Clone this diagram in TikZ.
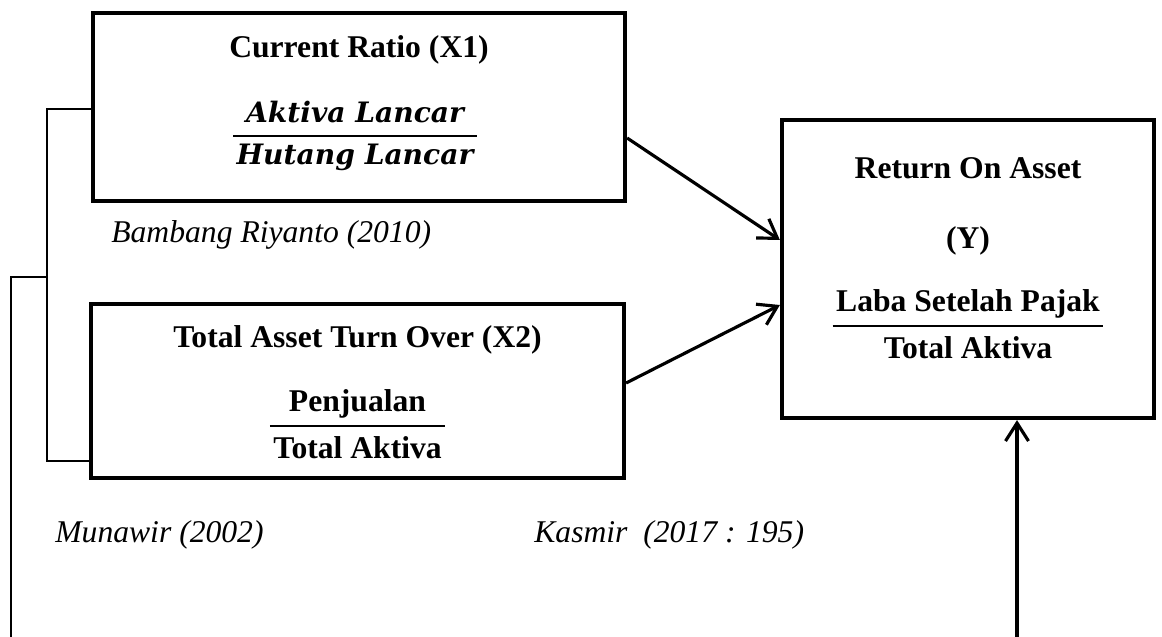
\documentclass[tikz,border=0pt]{standalone}
\usepackage{fontspec}
\setmainfont{Liberation Serif}
\newfontfamily\mathitfont{DejaVu Serif}
\usetikzlibrary{arrows.meta,calc}

\newcommand{\figfont}{\fontsize{18}{21.6}\selectfont}
\newcommand{\ratiofrac}[2]{%
  {\setlength{\arrayrulewidth}{1.7pt}\renewcommand{\arraystretch}{1.15}%
   \setlength{\tabcolsep}{2pt}%
   \begin{tabular}{c}#1\\\hline #2\end{tabular}}}

\begin{document}
\begin{tikzpicture}[
    box/.style={rectangle, draw, line width=2.4pt, inner sep=0pt},
    ttl/.style={font=\figfont\bfseries, anchor=base, inner sep=0pt},
    frac/.style={font=\figfont\bfseries, inner sep=0pt},
    mfrac/.style={font=\fontsize{16}{19.2}\selectfont\mathitfont\bfseries\itshape,
                  inner sep=0pt},
    cite/.style={font=\figfont\itshape, anchor=base west, inner sep=0pt},
    link/.style={line width=1.6pt},
    arr/.style={-{Straight Barb[length=3.6mm,width=4.6mm,line width=1.8pt]},
                line width=1.8pt},
  ]
  \useasboundingbox (0,0) rectangle (23.24,-12.74);

  % Variable boxes
  \node[box, minimum width=10.64cm, minimum height=3.76cm] (x1) at (7.18,-2.14) {};
  \node[box, minimum width=10.66cm, minimum height=3.48cm] (x2) at (7.15,-7.82) {};
  \node[box, minimum width=7.44cm, minimum height=5.96cm] (roa) at (19.36,-5.38) {};

  % Box contents
  \node[ttl] (x1title) at (7.18,-1.15) {Current Ratio (X1)};
  \node[mfrac] (x1frac) at (7.10,-2.72) {\ratiofrac{Aktiva Lancar}{Hutang Lancar}};

  \node[ttl] (x2title) at (7.15,-6.95) {Total Asset Turn Over (X2)};
  \node[frac] (x2frac) at (7.15,-8.52) {\ratiofrac{Penjualan}{Total Aktiva}};

  \node[ttl] (roatitle) at (19.36,-3.57) {Return On Asset};
  \node[ttl] (roay) at (19.36,-4.97) {(Y)};
  \node[frac] (roafrac) at (19.36,-6.52) {\ratiofrac{Laba Setelah Pajak}{Total Aktiva}};

  % Sources
  \node[cite] (src1) at (2.22,-4.86) {Bambang Riyanto (2010)};
  \node[cite] (src2) at (1.10,-10.84) {Munawir (2002)};
  \node[cite] (src3) at (10.68,-10.84) {Kasmir\ \ (2017 : 195)};

  % Arrows into Y
  \draw[arr] ($(x1.east)+(0,-0.62)$) -- ($(roa.west)+(0,0.58)$);
  \draw[arr] ($(x2.east)+(0,0.16)$) -- ($(roa.west)+(0,-0.72)$);

  % Bracket joining X1 and X2
  \coordinate (btop) at (0.94,-2.18);
  \coordinate (bbot) at (0.94,-9.22);
  \coordinate (bmid) at (0.94,-5.54);
  \coordinate (outer) at (0.22,-5.54);
  \coordinate (low) at (0.22,-13.0);
  \draw[link] (x1.west |- btop) -- (btop) -- (bbot) -- (x2.west |- bbot);
  \draw[link] (bmid) -- (outer) -- (low);

  % Line from below into Y
  \coordinate (feed) at (20.34,-13.0);
  \draw[arr] (feed) -- (feed |- roa.south);

\end{tikzpicture}
\end{document}
